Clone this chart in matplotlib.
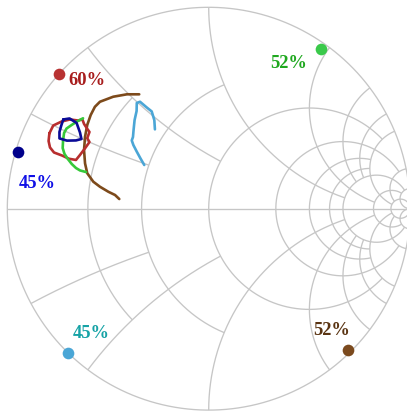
import numpy as np
import matplotlib
matplotlib.use("Agg")
import matplotlib.pyplot as plt

# ---- Smith chart grid values ----
resistance_ticks = [0.25, 0.5, 1, 2, 3, 4, 5, 10, 20]
reactance_ticks = [0.25, 0.5, 1, 2, 3, 4, 5, 10, 20]
# each gridline stops where it meets this value of the other family
grid_extent = {0.25: 0.5, 0.5: 1, 1: 5, 2: 10, 3: 5, 4: 5, 5: 20, 10: 20, 20: np.inf}

# ---- traces (reflection coefficient, real / imaginary parts) ----
navy_re = [-0.722, -0.691, -0.656, -0.639, -0.632, -0.659, -0.704, -0.741, -0.741, -0.732, -0.722]
navy_im = [0.443, 0.448, 0.426, 0.378, 0.346, 0.339, 0.338, 0.349, 0.381, 0.413, 0.443]

red_re = [-0.791, -0.772, -0.730, -0.689, -0.649, -0.627, -0.619, -0.604, -0.592, -0.603,
          -0.592, -0.614, -0.639, -0.659, -0.694, -0.728, -0.768, -0.788, -0.795, -0.791]
red_im = [0.374, 0.413, 0.433, 0.443, 0.438, 0.443, 0.421, 0.398, 0.381, 0.350,
          0.331, 0.300, 0.267, 0.242, 0.248, 0.264, 0.279, 0.304, 0.336, 0.374]

green_re = [-0.624, -0.654, -0.680, -0.706, -0.718, -0.723, -0.725, -0.716, -0.701, -0.680, -0.659, -0.639, -0.609]
green_im = [0.449, 0.433, 0.416, 0.398, 0.376, 0.341, 0.301, 0.272, 0.249, 0.222, 0.202, 0.190, 0.182]

brown_re = [-0.345, -0.406, -0.474, -0.540, -0.565, -0.586, -0.603, -0.614, -0.619, -0.614,
            -0.603, -0.573, -0.540, -0.498, -0.465, -0.444]
brown_im = [0.568, 0.568, 0.556, 0.531, 0.506, 0.465, 0.416, 0.357, 0.291, 0.225,
            0.176, 0.134, 0.109, 0.084, 0.068, 0.048]

sky_re = [-0.267, -0.270, -0.283, -0.308, -0.341, -0.357, -0.358, -0.368, -0.373, -0.376,
          -0.382, -0.374, -0.357, -0.339, -0.320]
sky_im = [0.394, 0.440, 0.483, 0.503, 0.531, 0.525, 0.485, 0.440, 0.391, 0.356,
          0.339, 0.316, 0.283, 0.250, 0.217]

# ---- efficiency markers ----
marker_labels = ["60%", "45%", "52%", "45%", "52%"]
marker_re = [-0.742, -0.945, 0.556, -0.697, 0.690]
marker_im = [0.669, 0.283, 0.791, -0.715, -0.702]


def gamma(z):
    return (z - 1) / (z + 1)


fig = plt.figure(figsize=(4.07, 4.13), dpi=100)
lim = 1.05
scale = 201.4  # pixels per unit reflection coefficient
cx, cy = 208.7, 208.7
W, H = 407.0, 413.0
ax = fig.add_axes([(cx - lim * scale) / W, (H - cy - lim * scale) / H,
                   2 * lim * scale / W, 2 * lim * scale / H])
ax.set_xlim(-lim, lim)
ax.set_ylim(-lim, lim)
ax.set_aspect("equal")
ax.axis("off")

grid_kw = dict(color="#c6c6c6", lw=0.95, zorder=1, solid_capstyle="butt")

# outer boundary and real axis
t = np.linspace(0, 2 * np.pi, 800)
ax.plot(np.cos(t), np.sin(t), **grid_kw)
ax.plot([-1, 1], [0, 0], **grid_kw)

# constant-resistance circles
for r in resistance_ticks:
    xmax = grid_extent[r]
    if np.isinf(xmax):
        c, rad = r / (1 + r), 1 / (1 + r)
        ax.plot(c + rad * np.cos(t), rad * np.sin(t), **grid_kw)
    else:
        xs = xmax * np.tan(np.linspace(-1, 1, 1500) * np.pi / 4)
        g = gamma(r + 1j * xs)
        ax.plot(g.real, g.imag, **grid_kw)

# constant-reactance arcs
for x in reactance_ticks:
    rmax = grid_extent[x]
    if np.isinf(rmax):
        rs = np.tan(np.linspace(0, np.pi / 2 - 1e-4, 1500))
    else:
        rs = rmax * np.tan(np.linspace(0, 1, 1500) * np.pi / 4)
    for s in (1, -1):
        g = gamma(rs + 1j * s * x)
        ax.plot(g.real, g.imag, **grid_kw)

# traces
trace_kw = dict(lw=1.9, zorder=3, solid_joinstyle="round", solid_capstyle="round")
ax.plot(brown_re, brown_im, color="#7d4a1b", **trace_kw)
ax.plot(sky_re, sky_im, color="#4ba6d6", **trace_kw)
ax.plot(red_re, red_im, color="#b82e2e", **trace_kw)
ax.plot(green_re, green_im, color="#36c83a", **trace_kw)
ax.plot(navy_re, navy_im, color="#0a0a96", **trace_kw)

marker_colors = ["#b83232", "#00008b", "#3ac94a", "#4aa6d6", "#7b4a1e"]
label_colors = ["#a81e1e", "#1010e6", "#1fa81f", "#17a3a6", "#5a3412"]
label_offsets = [(19.6, -7.9), (13.6, -26.4), (-23.3, -13.7), (16.2, 10.4), (-11.2, 10.8)]

for lab, mr, mi, mc, lc, off in zip(marker_labels, marker_re, marker_im,
                                     marker_colors, label_colors, label_offsets):
    ax.plot([mr], [mi], "o", ms=8.4, color=mc, mec="none", zorder=4, clip_on=False)
    ax.annotate(lab, (mr, mi), xytext=off, textcoords="offset points",
                ha="center", va="baseline", color=lc, fontsize=13.3,
                fontweight="bold", family=["Liberation Serif", "DejaVu Serif"], zorder=5)

fig.savefig("out.png", dpi=100, facecolor="white")
